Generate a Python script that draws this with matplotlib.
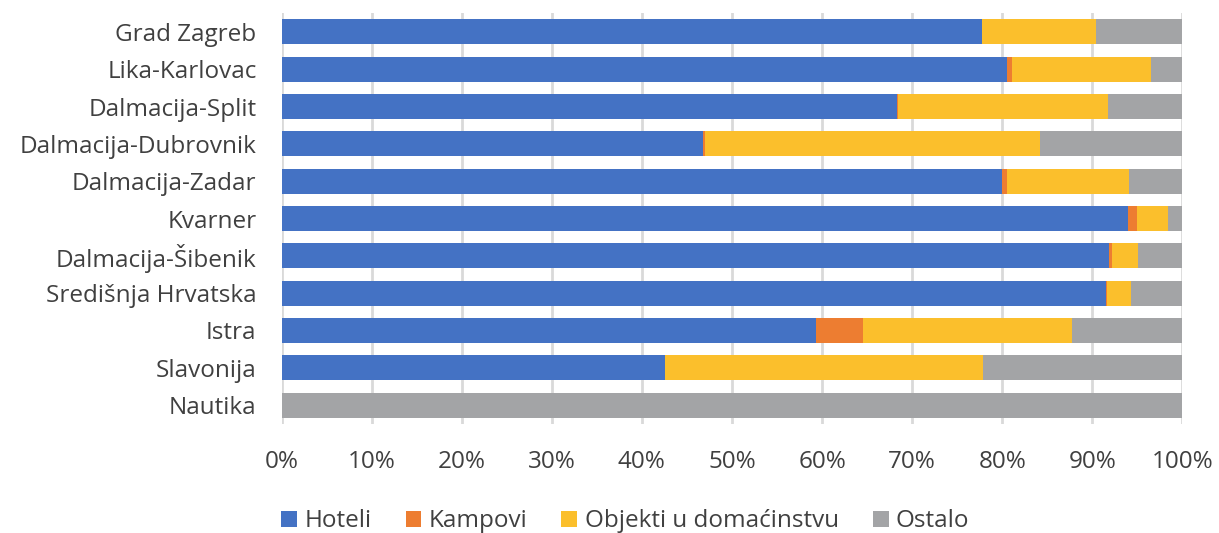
import matplotlib.pyplot as plt
import numpy as np

categories = ["Grad Zagreb", "Lika-Karlovac", "Dalmacija-Split", "Dalmacija-Dubrovnik",
              "Dalmacija-Zadar", "Kvarner", "Dalmacija-Šibenik", "Središnja Hrvatska",
              "Istra", "Slavonija", "Nautika"]
hoteli = [77.8, 80.5, 68.3, 46.8, 80.0, 94.0, 91.8, 91.5, 59.3, 42.6, 0.0]
kampovi = [0.0, 0.6, 0.1, 0.2, 0.5, 1.0, 0.4, 0.1, 5.2, 0.0, 0.0]
objekti = [12.6, 15.4, 23.3, 37.2, 13.6, 3.4, 2.9, 2.7, 23.2, 35.3, 0.0]
ostalo = [100 - a - b - c for a, b, c in zip(hoteli, kampovi, objekti)]
series_names = ["Hoteli", "Kampovi", "Objekti u domaćinstvu", "Ostalo"]
colors = ["#4472C4", "#ED7D31", "#FBBF2C", "#A3A4A6"]
xticks = [0, 10, 20, 30, 40, 50, 60, 70, 80, 90, 100]

plt.rcParams['font.family'] = ['Open Sans', 'DejaVu Sans']

fig = plt.figure(figsize=(12.19, 5.33), dpi=100)
ax = fig.add_axes([0.231, 0.205, 0.739, 0.77])

y = np.arange(len(categories))
left = np.zeros(len(categories))
for name, vals, col in zip(series_names, [hoteli, kampovi, objekti, ostalo], colors):
    vals = np.array(vals)
    ax.barh(y, vals, left=left, height=0.67, color=col, label=name, zorder=3)
    left += vals

ax.set_ylim(len(categories) - 0.5, -0.5)
ax.set_xlim(0, 100)
ax.set_yticks(y)
ax.set_yticklabels(categories, fontsize=17.5, color="#404040")
ax.set_xticks(xticks)
ax.set_xticklabels([f"{t}%" for t in xticks], fontsize=17.5, color="#404040")
ax.tick_params(axis='both', length=0)
ax.tick_params(axis='x', pad=19)
ax.tick_params(axis='y', pad=18)
for s in ax.spines.values():
    s.set_visible(False)
ax.grid(axis='x', color="#D9D9D9", linewidth=2, zorder=0)

handles, labels = ax.get_legend_handles_labels()
fig.legend(handles, labels, loc='center', bbox_to_anchor=(0.513, 0.022), ncol=4,
           frameon=False, fontsize=17.5, handlelength=0.65, handleheight=0.65,
           handletextpad=0.3, columnspacing=1.4, labelcolor="#404040")

fig.savefig("out.png", dpi=100)
